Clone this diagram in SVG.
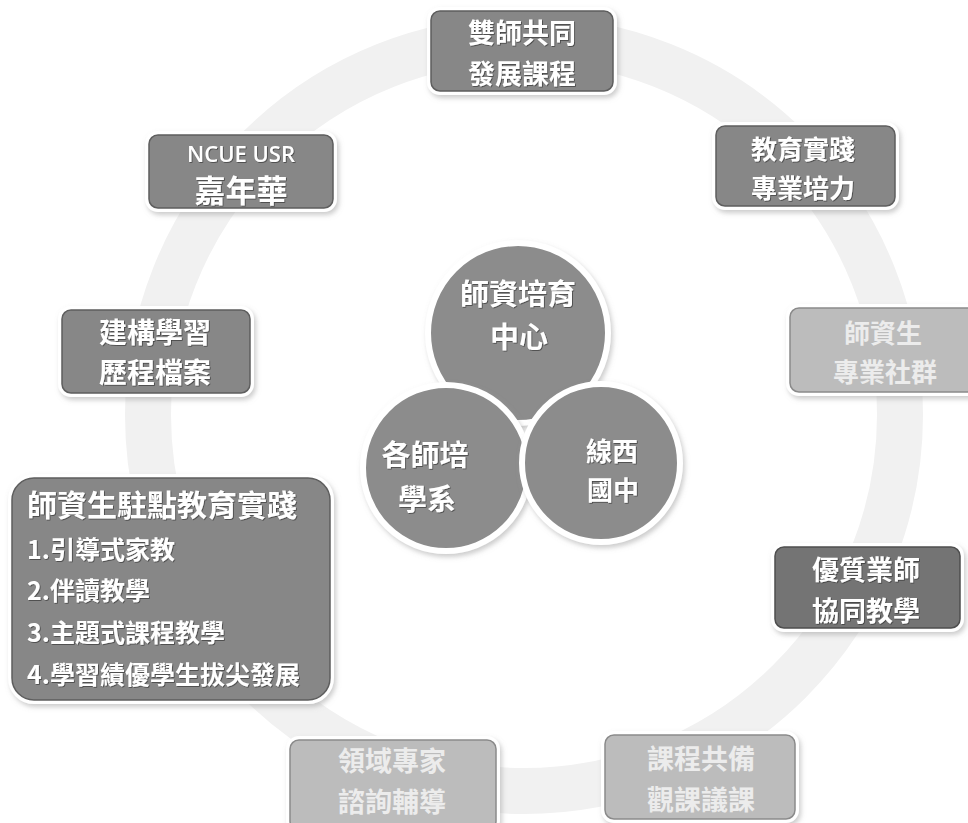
<svg xmlns="http://www.w3.org/2000/svg" width="968" height="823" viewBox="0 0 968 823">
<defs>
<filter id="sh" x="-10%" y="-10%" width="120%" height="130%">
<feDropShadow dx="2" dy="3" stdDeviation="2.5" flood-color="#999" flood-opacity="0.5"/>
</filter>
<filter id="ts" x="-5%" y="-20%" width="110%" height="140%">
<feDropShadow dx="0.8" dy="0.8" stdDeviation="0.6" flood-color="#333" flood-opacity="0.8"/>
</filter>
</defs>
<style>
.dark{fill:#878787;stroke:#5e5e5e;stroke-width:1.5}
.darker{fill:#747474;stroke:#4e4e4e;stroke-width:1.5}
.light{fill:#bcbcbc;stroke:#8a8a8a;stroke-width:1.5}
.halo{fill:#ffffff;stroke:#ffffff;stroke-width:8;filter:url(#sh)}
.circ{fill:#8c8c8c;stroke:#ffffff;stroke-width:6;filter:url(#sh)}
.t{font-family:"Noto Sans CJK TC","Noto Sans CJK SC",sans-serif;font-weight:bold;fill:#ffffff;text-anchor:middle;dominant-baseline:central;filter:url(#ts)}
.tl{font-family:"Noto Sans CJK TC","Noto Sans CJK SC",sans-serif;font-weight:bold;fill:#ececec;text-anchor:middle;dominant-baseline:central}
.lat{font-family:"Open Sans","Liberation Sans",sans-serif;font-weight:600}
.ls{text-anchor:start}
</style>
<rect width="968" height="823" fill="#ffffff"/>
<g id="connectors">
<circle cx="524" cy="415" r="376" fill="none" stroke="#f1f1f1" stroke-width="46"/>
</g>
<g id="n-shuangshi">
<rect class="halo" x="431" y="11" width="182" height="80" rx="9"/>
<rect class="dark" x="431" y="11" width="182" height="80" rx="9"/>
<text class="t" x="522" y="31" font-size="27">雙師共同</text>
<text class="t" x="522" y="72" font-size="27">發展課程</text>
</g>
<g id="n-jiaoyu">
<rect class="halo" x="716" y="126" width="179" height="80" rx="9"/>
<rect class="dark" x="716" y="126" width="179" height="80" rx="9"/>
<text class="t" x="803" y="147" font-size="26">教育實踐</text>
<text class="t" x="803" y="186" font-size="26">專業培力</text>
</g>
<g id="n-ncue">
<rect class="halo" x="149" y="135" width="184" height="73" rx="9"/>
<rect class="dark" x="149" y="135" width="184" height="73" rx="9"/>
<text class="t lat" x="241" y="153" font-size="22">NCUE USR</text>
<text class="t" x="241" y="188" font-size="31">嘉年華</text>
</g>
<g id="n-jiangou">
<rect class="halo" x="62" y="310" width="188" height="83" rx="9"/>
<rect class="dark" x="62" y="310" width="188" height="83" rx="9"/>
<text class="t" x="155" y="331" font-size="28">建構學習</text>
<text class="t" x="155" y="371" font-size="28">歷程檔案</text>
</g>
<g id="n-shizisheng">
<rect class="halo" x="790" y="308" width="200" height="84" rx="9"/>
<rect class="light" x="790" y="308" width="200" height="84" rx="9"/>
<text class="tl" x="883" y="331" font-size="26">師資生</text>
<text class="tl" x="885" y="370" font-size="26">專業社群</text>
</g>
<g id="n-list">
<rect class="halo" x="12" y="478" width="318" height="222" rx="22"/>
<rect class="dark" x="12" y="478" width="318" height="222" rx="22"/>
<text class="t ls" x="27" y="503" font-size="30">師資生駐點教育實踐</text>
<text class="t ls" x="27" y="548" font-size="25">1.引導式家教</text>
<text class="t ls" x="27" y="589" font-size="25">2.伴讀教學</text>
<text class="t ls" x="27" y="631" font-size="25">3.主題式課程教學</text>
<text class="t ls" x="27" y="673" font-size="25">4.學習績優學生拔尖發展</text>
</g>
<g id="n-youzhi">
<rect class="halo" x="775" y="547" width="185" height="81" rx="9"/>
<rect class="darker" x="775" y="547" width="185" height="81" rx="9"/>
<text class="t" x="866" y="568" font-size="27">優質業師</text>
<text class="t" x="866" y="609" font-size="27">協同教學</text>
</g>
<g id="n-lingyu">
<rect class="halo" x="290" y="740" width="206" height="90" rx="9"/>
<rect class="light" x="290" y="740" width="206" height="90" rx="9"/>
<text class="tl" x="392" y="759" font-size="27">領域專家</text>
<text class="tl" x="392" y="800" font-size="27">諮詢輔導</text>
</g>
<g id="n-kecheng">
<rect class="halo" x="605" y="735" width="190" height="84" rx="9"/>
<rect class="light" x="605" y="735" width="190" height="84" rx="9"/>
<text class="tl" x="701" y="757" font-size="27">課程共備</text>
<text class="tl" x="701" y="798" font-size="27">觀課議課</text>
</g>
<g id="n-center">
<circle class="circ" cx="518" cy="333" r="90"/>
<text class="t" x="518" y="292" font-size="29">師資培育</text>
<text class="t" x="519" y="335" font-size="29">中心</text>
</g>
<g id="n-xibu">
<circle class="circ" cx="446" cy="468" r="83"/>
<text class="t" x="425" y="453" font-size="29">各師培</text>
<text class="t" x="427" y="497" font-size="29">學系</text>
</g>
<g id="n-xianxi">
<circle class="circ" cx="601" cy="463" r="79"/>
<text class="t" x="612" y="449" font-size="26">線西</text>
<text class="t" x="613" y="488" font-size="26">國中</text>
</g>
</svg>
